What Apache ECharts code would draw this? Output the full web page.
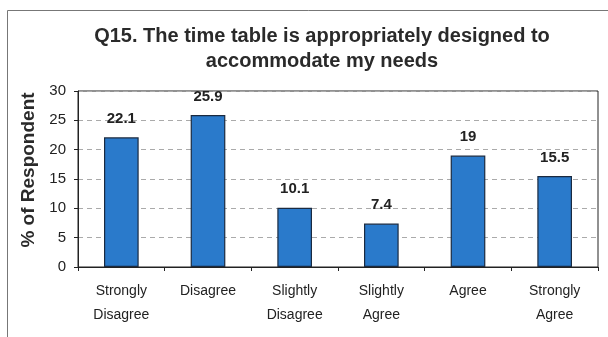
<!DOCTYPE html>
<html><head><meta charset="utf-8">
<script src="https://cdn.jsdelivr.net/npm/echarts@6/dist/echarts.min.js"></script>
<style>html,body{margin:0;padding:0;background:#fff}#c{width:608px;height:337px}</style>
</head><body><div id="c"></div>
<script>
const categories = ['Strongly\nDisagree','Disagree','Slightly\nDisagree','Slightly\nAgree','Agree','Strongly\nAgree'];
const values = [22.1, 25.9, 10.1, 7.4, 19, 15.5];
const yTicks = [0, 5, 10, 15, 20, 25, 30];
const chart = echarts.init(document.getElementById('c'), null, {renderer:'canvas'});
chart.setOption({
  animation:false,
  backgroundColor:'#fff',
  title:{text:'Q15. The time table is appropriately designed to\naccommodate my needs', left:317, top:19, textAlign:'center',
    textStyle:{fontFamily:'Liberation Sans', fontSize:20, fontWeight:'bold', color:'#2a2a2a', lineHeight:25}},
  graphic:[{type:'rect', shape:{x:7.5,y:10.5,width:620,height:340}, style:{fill:'none', stroke:'#777', lineWidth:1}, silent:true}],
  grid:{left:78, right:10, top:91, bottom:70, show:true, borderColor:'#222', borderWidth:1, backgroundColor:'transparent'},
  xAxis:{type:'category', data:categories,
    axisLine:{lineStyle:{color:'#222'}}, axisTick:{show:true, length:4, lineStyle:{color:'#222'}},
    axisLabel:{fontFamily:'Liberation Sans', fontSize:14, color:'#222', margin:12, lineHeight:24, interval:0}},
  yAxis:{type:'value', min:0, max:30, interval:5,
    name:'% of Respondent', nameLocation:'middle', nameGap:40, nameRotate:90,
    nameTextStyle:{fontFamily:'Liberation Sans', fontSize:19, fontWeight:'bold', color:'#2a2a2a', padding:[0,0,0,18]},
    axisLine:{show:true, lineStyle:{color:'#222'}}, axisTick:{show:true, length:4, lineStyle:{color:'#222'}},
    axisLabel:{fontFamily:'Liberation Sans', fontSize:15, color:'#222', margin:12,
      formatter:v=> yTicks.includes(v)? String(v):''},
    splitLine:{show:true, lineStyle:{color:'#aaa', type:[5,4], width:1}}},
  series:[{type:'bar', data:values, barWidth:'40%',
    itemStyle:{color:'#2a7acb', borderColor:'#1a2a40', borderWidth:1.2},
    label:{show:true, position:'top', distance:11, fontFamily:'Liberation Sans', fontSize:15, fontWeight:'bold', color:'#222'}}]
});
</script></body></html>
